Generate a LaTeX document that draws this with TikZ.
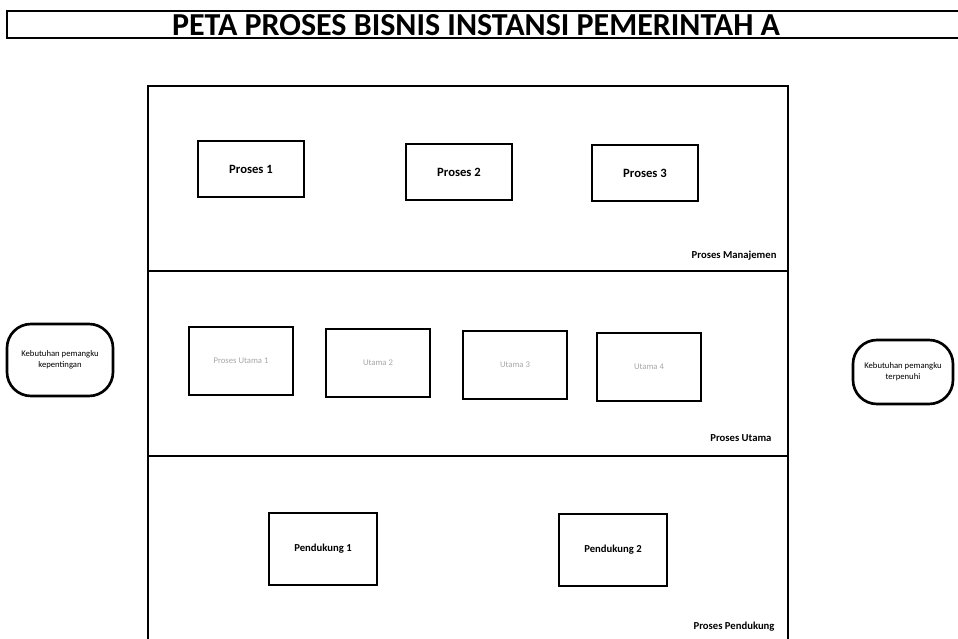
\documentclass[tikz,border=0pt]{standalone}
\usepackage{fontspec}
\setmainfont{Carlito}
\tikzset{every picture/.style={line width=0.75pt}}
\tikzset{
  procbox/.style={draw, line width=2pt, inner sep=0.75pt, align=center},
  mgmtbox/.style={procbox, minimum width=79.5pt, minimum height=42pt, font=\bfseries\fontsize{9.5}{11}\selectfont},
  corebox/.style={procbox, minimum width=78pt, minimum height=51pt, font=\fontsize{6.5}{7.5}\selectfont, text=black!35},
  suppbox/.style={procbox, minimum width=81pt, minimum height=54pt, font=\bfseries\fontsize{8}{9}\selectfont},
  stakebox/.style={draw, line width=2pt, rounded corners=18pt, inner sep=0.75pt, align=center, font=\fontsize{6.5}{8}\selectfont},
  lanelabel/.style={anchor=east, inner sep=0.75pt, font=\bfseries\fontsize{8}{9}\selectfont}
}

\begin{document}
\begin{tikzpicture}[x=0.75pt,y=0.75pt,yscale=-1,xscale=1]
        \useasboundingbox (0,0) rectangle (958,639);

        %Shape: Title frame
        \draw [line width=1.5pt] (975,11) -- (7,11) -- (7,38) -- (975,38) ;
        % Text Node
        \node (title) at (476,25) [inner sep=0.75pt, font=\bfseries\fontsize{24}{26}\selectfont] {PETA PROSES BISNIS INSTANSI PEMERINTAH A};

        %Shape: Main frame
        \draw [line width=2pt] (148,650) -- (148,86) -- (788,86) -- (788,650) ;
        %Straight Lines: lane dividers
        \draw [line width=1.5pt] (148,271) -- (788,271) ;
        \draw [line width=1.5pt] (148,456) -- (788,456) ;

        % Proses manajemen
        \node [mgmtbox] (mgmt1) at (251,169) {Proses 1};
        \node [mgmtbox] (mgmt2) at (459,172) {Proses 2};
        \node [mgmtbox] (mgmt3) at (645,173) {Proses 3};
        \node [lanelabel] (lblMgmt) at (778,256) {Proses Manajemen};

        % Proses utama
        \node [corebox] (core1) at (241,361) {Proses Utama 1};
        \node [corebox] (core2) at (378,363) {Utama 2};
        \node [corebox] (core3) at (515,365) {Utama 3};
        \node [corebox] (core4) at (649,367) {Utama 4};
        \node [lanelabel] (lblCore) at (773,438) {Proses Utama};

        % Proses pendukung
        \node [suppbox] (supp1) at (323,549) {Pendukung 1};
        \node [suppbox] (supp2) at (613,550) {Pendukung 2};
        \node [lanelabel] (lblSupp) at (776,627) {Proses Pendukung};

        % Stakeholder
        \node [stakebox, minimum width=79.5pt, minimum height=54pt] (stakeIn) at (60,360) {Kebutuhan pemangku\\kepentingan};
        \node [stakebox, minimum width=75pt, minimum height=48pt] (stakeOut) at (903,372) {Kebutuhan pemangku\\terpenuhi};

\end{tikzpicture}
\end{document}
